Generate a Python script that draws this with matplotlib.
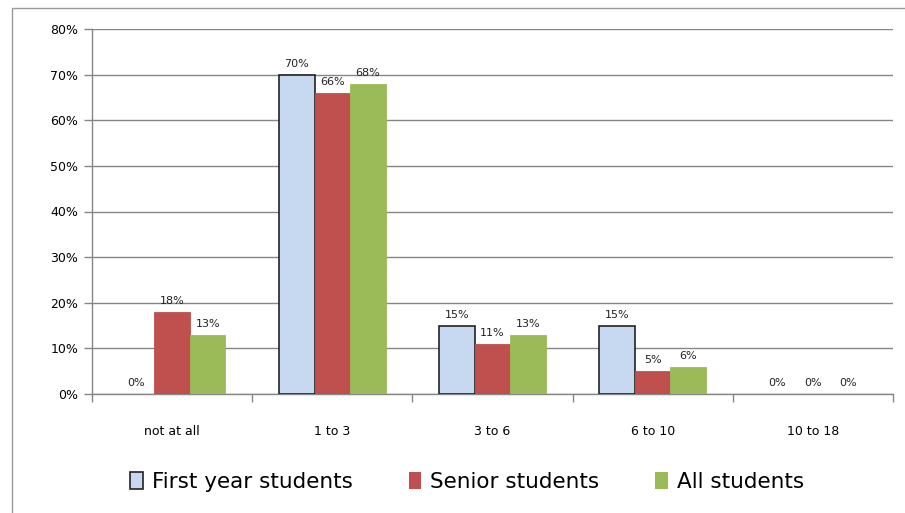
import matplotlib
matplotlib.use("Agg")
import matplotlib.pyplot as plt
from matplotlib.patches import Rectangle
from matplotlib.ticker import FixedLocator
import numpy as np

categories = ["not at all", "1 to 3", "3 to 6", "6 to 10", "10 to 18"]
first_year = [0, 70, 15, 15, 0]
senior = [18, 66, 11, 5, 0]
all_students = [13, 68, 13, 6, 0]
series_names = ["First year students", "Senior students", "All students"]
y_ticks = [0, 10, 20, 30, 40, 50, 60, 70, 80]

colors = ["#C6D9F0", "#C0504D", "#9BBB59"]
edges = ["#222222", "#C0504D", "#9BBB59"]

fig = plt.figure(figsize=(9.05, 5.13), dpi=100)
fig.patches.append(Rectangle((12 / 905, -0.01), 1.0, 1 - 8 / 513 + 0.01,
                             transform=fig.transFigure, fill=False,
                             edgecolor="#9a9a9a", linewidth=1.0))

ax = fig.add_axes([92 / 905, 1 - 394 / 513, (893 - 92) / 905, (394 - 29) / 513])
x = np.arange(len(categories))
w = 0.222
grey = "#868686"

for i, (vals, c, e, name) in enumerate(zip([first_year, senior, all_students], colors, edges, series_names)):
    xs = x + (i - 1) * w
    lw = 1.2 if i == 0 else 0.6
    bars = ax.bar(xs, vals, width=w, color=c, edgecolor=e, linewidth=lw,
                  label=name, zorder=3)
    for b, v in zip(bars, vals):
        if v == 0:
            b.set_linewidth(0)
    for xi, v in zip(xs, vals):
        ax.text(xi, v + 1.3, f"{v}%", ha="center", va="bottom", fontsize=8,
                color="#222222", zorder=4)

ax.set_xlim(-0.5, len(categories) - 0.5)
ax.set_ylim(0, 80)
ax.set_yticks(y_ticks)
ax.set_yticklabels([f"{t}%" for t in y_ticks], fontsize=9)
ax.yaxis.grid(True, color=grey, linewidth=1.0, zorder=0)
ax.set_axisbelow(True)

ax.set_xticks(x)
ax.set_xticklabels(categories, fontsize=9)
ax.tick_params(axis="x", which="major", length=0, pad=22)
ax.xaxis.set_minor_locator(FixedLocator(np.arange(-0.5, len(categories), 1.0)))
ax.tick_params(axis="x", which="minor", length=6, color=grey, width=1.0)
ax.tick_params(axis="y", length=6, color=grey, width=1.0, pad=4)

for s in ["top", "right"]:
    ax.spines[s].set_visible(False)
for s in ["left", "bottom"]:
    ax.spines[s].set_color(grey)
    ax.spines[s].set_linewidth(1.0)

leg = fig.legend(loc="center", bbox_to_anchor=(467 / 905, 1 - 482 / 513), ncol=3,
                 frameon=False, fontsize=15.5, handlelength=0.6, handleheight=0.85,
                 handletextpad=0.4, columnspacing=2.6)
for h in leg.legend_handles:
    h.set_linewidth(1.2 if h.get_facecolor()[0] > 0.7 and h.get_facecolor()[2] > 0.8 else 0)

fig.savefig("out.png", dpi=100)
